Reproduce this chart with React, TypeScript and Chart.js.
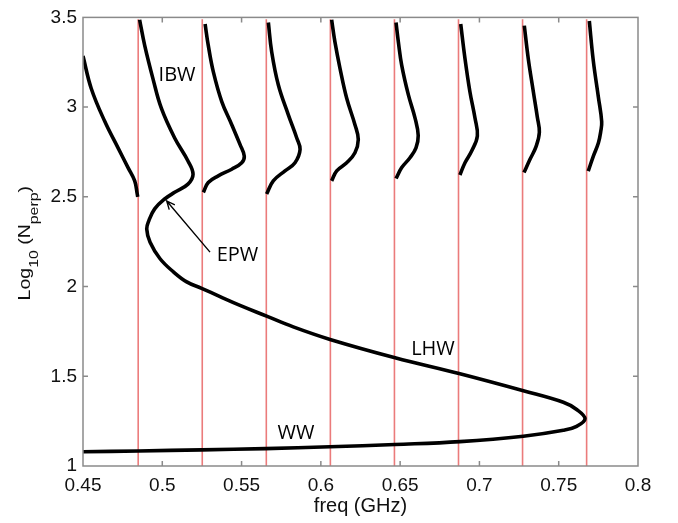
import React, { useEffect, useRef } from "react";
import { Chart, registerables } from "chart.js";

Chart.register(...registerables);

// ---- axis ticks ----
const xTicks = [0.45, 0.5, 0.55, 0.6, 0.65, 0.7, 0.75, 0.8];
const xTickLabels = ["0.45", "0.5", "0.55", "0.6", "0.65", "0.7", "0.75", "0.8"];
const yTicks = [1, 1.5, 2, 2.5, 3, 3.5];
const yTickLabels = ["1", "1.5", "2", "2.5", "3", "3.5"];

// ---- ion cyclotron harmonics (GHz) ----
const harmonicFreqs = [0.4848, 0.5252, 0.5656, 0.606, 0.6464, 0.6868, 0.7272, 0.7676];
const harmonicBottom = 1;
const harmonicTop = 3.49;

// ---- dispersion branches: [freq, log10 Nperp] ----
const ibw11 = [
  [0.45, 3.285], [0.4552, 3.104], [0.4637, 2.921], [0.4721, 2.773], [0.4784, 2.663],
  [0.4826, 2.589], [0.4842, 2.516], [0.4845, 2.5],
];
const ibwEpwLhwWw = [
  [0.4857, 3.487], [0.4889, 3.344], [0.4941, 3.159], [0.4994, 2.994], [0.5078, 2.828],
  [0.5162, 2.7], [0.5194, 2.626], [0.5162, 2.571], [0.5078, 2.525], [0.5015, 2.488],
  [0.4952, 2.433], [0.4916, 2.369], [0.4902, 2.32], [0.4923, 2.247], [0.4986, 2.155],
  [0.507, 2.082], [0.5154, 2.026], [0.5248, 1.99], [0.5364, 1.944], [0.549, 1.895],
  [0.5658, 1.835], [0.5826, 1.775], [0.6058, 1.705], [0.6468, 1.603], [0.6871, 1.515],
  [0.7277, 1.419], [0.7529, 1.355], [0.7613, 1.315], [0.7666, 1.263], [0.7613, 1.221],
  [0.7529, 1.199], [0.7277, 1.166], [0.6877, 1.136], [0.6468, 1.12], [0.6058, 1.107],
  [0.565, 1.097], [0.525, 1.09], [0.485, 1.084], [0.45, 1.079],
];
const ibw13 = [
  [0.5259, 2.525], [0.529, 2.58], [0.5353, 2.617], [0.5438, 2.654], [0.5501, 2.69],
  [0.5517, 2.727], [0.549, 2.792], [0.5438, 2.902], [0.5375, 3.031], [0.5322, 3.196],
  [0.529, 3.344], [0.527, 3.463],
];
const ibw14 = [
  [0.5658, 2.516], [0.57, 2.589], [0.5774, 2.645], [0.5837, 2.69], [0.5869, 2.764],
  [0.5848, 2.828], [0.5795, 2.957], [0.5732, 3.123], [0.569, 3.307], [0.5669, 3.472],
];
const ibw15 = [
  [0.6068, 2.589], [0.61, 2.645], [0.6163, 2.69], [0.6215, 2.746], [0.6236, 2.82],
  [0.6215, 2.902], [0.6163, 3.049], [0.6121, 3.215], [0.6089, 3.362], [0.6068, 3.487],
];
const ibw16 = [
  [0.6474, 2.602], [0.651, 2.663], [0.6562, 2.718], [0.66, 2.773], [0.6614, 2.842],
  [0.6594, 2.939], [0.6552, 3.068], [0.651, 3.233], [0.6489, 3.362], [0.6474, 3.472],
];
const ibw17 = [
  [0.6877, 2.622], [0.6909, 2.69], [0.6951, 2.755], [0.6987, 2.84],
  [0.6972, 2.939], [0.694, 3.086], [0.6909, 3.27], [0.6882, 3.463],
];
const ibw18 = [
  [0.7281, 2.635], [0.7319, 2.709], [0.7357, 2.78], [0.7378, 2.86],
  [0.7365, 2.945], [0.734, 3.086], [0.7308, 3.27], [0.7283, 3.454],
];
const ibw19 = [
  [0.7686, 2.643], [0.7718, 2.726], [0.775, 2.8], [0.7765, 2.864],
  [0.7771, 2.919], [0.775, 3.057], [0.7718, 3.259], [0.7693, 3.48],
];
const branches = [ibw11, ibwEpwLhwWw, ibw13, ibw14, ibw15, ibw16, ibw17, ibw18, ibw19];

// ---- annotations ----
const annotationTexts = ["IBW", "EPW", "LHW", "WW"];
const annotationX = [0.5093, 0.5474, 0.6707, 0.5843];
const annotationY = [3.18, 2.174, 1.651, 1.182];
const arrowTail = [0.5301, 2.192];
const arrowHead = [0.5028, 2.477];

const AXIS_FONT = '"Liberation Sans", Arial, Helvetica, sans-serif';
const LABEL_FONT = '"Open Sans", "Noto Sans", sans-serif';

function labelFor(values: number[], labels: string[], v: number) {
  const i = values.findIndex((t) => Math.abs(t - v) < 1e-9);
  return i >= 0 ? labels[i] : "";
}

const decorPlugin = {
  id: "decor",
  afterDatasetsDraw(chart: any) {
    const { ctx, chartArea, scales } = chart;
    const { left, right, top, bottom } = chartArea;
    const xs = scales.x;
    const ys = scales.y;
    ctx.save();
    // frame
    ctx.strokeStyle = "#8a8a8a";
    ctx.lineWidth = 1.5;
    ctx.strokeRect(left, top, right - left, bottom - top);
    // inward ticks on all four sides
    const tl = 5;
    ctx.beginPath();
    xTicks.forEach((v) => {
      const px = xs.getPixelForValue(v);
      if (px <= left + 1 || px >= right - 1) return;
      ctx.moveTo(px, bottom);
      ctx.lineTo(px, bottom - tl);
      ctx.moveTo(px, top);
      ctx.lineTo(px, top + tl);
    });
    yTicks.forEach((v) => {
      const py = ys.getPixelForValue(v);
      if (py <= top + 1 || py >= bottom - 1) return;
      ctx.moveTo(left, py);
      ctx.lineTo(left + tl, py);
      ctx.moveTo(right, py);
      ctx.lineTo(right - tl, py);
    });
    ctx.stroke();

    // annotation texts
    ctx.fillStyle = "#000";
    ctx.font = `20px ${LABEL_FONT}`;
    ctx.textAlign = "center";
    ctx.textBaseline = "middle";
    annotationTexts.forEach((t, i) => {
      ctx.fillText(t, xs.getPixelForValue(annotationX[i]), ys.getPixelForValue(annotationY[i]));
    });

    // EPW arrow
    const x1 = xs.getPixelForValue(arrowTail[0]);
    const y1 = ys.getPixelForValue(arrowTail[1]);
    const x2 = xs.getPixelForValue(arrowHead[0]);
    const y2 = ys.getPixelForValue(arrowHead[1]);
    const ang = Math.atan2(y2 - y1, x2 - x1);
    const ah = 9;
    const spread = 0.42;
    ctx.strokeStyle = "#000";
    ctx.lineWidth = 1.4;
    ctx.beginPath();
    ctx.moveTo(x1, y1);
    ctx.lineTo(x2, y2);
    ctx.moveTo(x2 - ah * Math.cos(ang - spread), y2 - ah * Math.sin(ang - spread));
    ctx.lineTo(x2, y2);
    ctx.lineTo(x2 - ah * Math.cos(ang + spread), y2 - ah * Math.sin(ang + spread));
    ctx.stroke();

    // y-axis title with subscripts
    const pieces: [string, number, number][] = [
      ["Log", 16, 0],
      ["10", 13, 8],
      [" (N", 16, 0],
      ["perp", 13, 8],
      [")", 16, 0],
    ];
    const stretch = 1.22;
    let total = 0;
    const widths = pieces.map(([t, s]) => {
      ctx.font = `${s}px ${AXIS_FONT}`;
      const w = ctx.measureText(t).width;
      total += w;
      return w;
    });
    const cy = (top + bottom) / 2 + 1.5;
    const bx = left - 53;
    ctx.translate(bx, cy);
    ctx.rotate(-Math.PI / 2);
    ctx.scale(stretch, 1);
    ctx.textAlign = "left";
    ctx.textBaseline = "alphabetic";
    ctx.fillStyle = "#111";
    let cx = -total / 2;
    pieces.forEach(([t, s, dy], i) => {
      ctx.font = `${s}px ${AXIS_FONT}`;
      ctx.fillText(t, cx, dy);
      cx += widths[i];
    });
    ctx.restore();
  },
};

export default function App() {
  const canvasRef = useRef<HTMLCanvasElement | null>(null);

  useEffect(() => {
    const canvas = canvasRef.current;
    if (!canvas) return;

    const curveSets = branches.map((b) => ({
      data: b.map(([x, y]) => ({ x, y })),
      borderColor: "#000",
      borderWidth: 3.6,
      pointRadius: 0,
      showLine: true,
      tension: 0.4,
      fill: false,
      order: 1,
    }));
    const harmonicSets = harmonicFreqs.map((f) => ({
      data: [
        { x: f, y: harmonicBottom },
        { x: f, y: harmonicTop },
      ],
      borderColor: "rgba(232, 100, 100, 0.85)",
      borderWidth: 1.6,
      pointRadius: 0,
      showLine: true,
      tension: 0,
      fill: false,
      order: 2,
    }));

    const chart = new Chart(canvas, {
      type: "scatter",
      data: { datasets: [...curveSets, ...harmonicSets] as any },
      options: {
        animation: false,
        responsive: false,
        maintainAspectRatio: false,
        layout: { padding: { left: 0, right: 40, top: 13, bottom: 0 } },
        plugins: { legend: { display: false }, tooltip: { enabled: false } },
        scales: {
          x: {
            type: "linear",
            min: 0.45,
            max: 0.8,
            afterBuildTicks: (s: any) => {
              s.ticks = xTicks.map((v) => ({ value: v }));
            },
            afterFit: (s: any) => {
              s.height = 57;
            },
            grid: { display: false, drawTicks: false },
            border: { display: false },
            ticks: {
              autoSkip: false,
              maxRotation: 0,
              padding: 8,
              color: "#111",
              font: { family: AXIS_FONT, size: 19 },
              callback: (v: any) => labelFor(xTicks, xTickLabels, Number(v)),
            },
            title: {
              display: true,
              text: "freq (GHz)",
              color: "#111",
              font: { family: AXIS_FONT, size: 20 },
              padding: { top: 0, bottom: 5 },
            },
          },
          y: {
            type: "linear",
            min: 1,
            max: 3.5,
            afterBuildTicks: (s: any) => {
              s.ticks = yTicks.map((v) => ({ value: v }));
            },
            afterFit: (s: any) => {
              s.width = 83;
            },
            grid: { display: false, drawTicks: false },
            border: { display: false },
            ticks: {
              autoSkip: false,
              padding: 6,
              color: "#111",
              font: { family: AXIS_FONT, size: 19 },
              callback: (v: any) => labelFor(yTicks, yTickLabels, Number(v)),
            },
          },
        },
      } as any,
      plugins: [decorPlugin],
    });

    return () => chart.destroy();
  }, []);

  return (
    <div style={{ position: "fixed", left: 0, top: 0, width: 678, height: 523, background: "#fff" }}>
      <canvas ref={canvasRef} width={678} height={523} style={{ width: 678, height: 523, display: "block" }} />
    </div>
  );
}
